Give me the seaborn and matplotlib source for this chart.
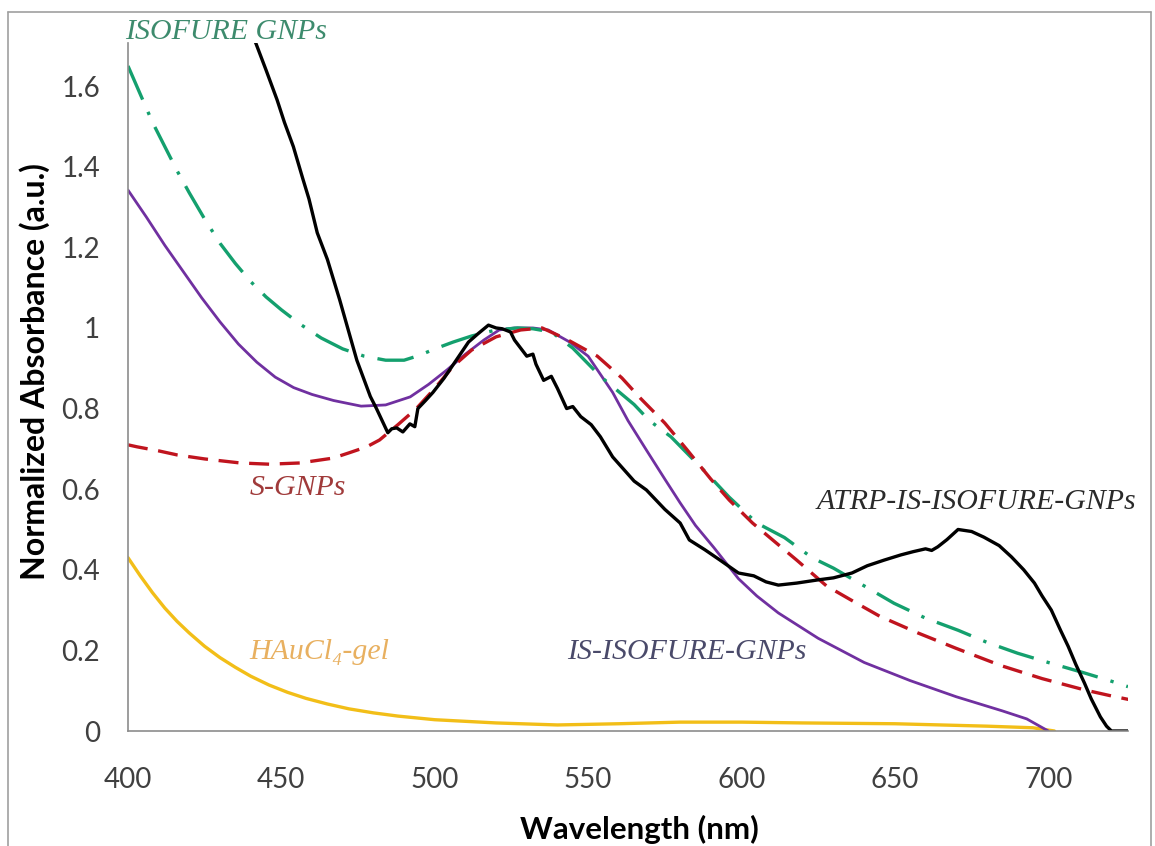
import matplotlib
matplotlib.use("Agg")
import matplotlib.pyplot as plt
from matplotlib.lines import Line2D
import seaborn as sns

# ---------------- data ----------------
atrp_wl = [438, 441.5, 445, 448.6, 451, 453.9, 457, 459, 461.7, 465, 469, 474.6, 479, 481,
           484.7, 486, 487.6, 489.6, 491.9, 493.5, 494.5, 497, 499.4, 503, 507, 511, 514,
           517.5, 520, 522, 524.7, 526, 528, 530, 532, 533, 535.5, 538, 540, 543, 545,
           547.6, 551, 554, 558, 565, 569, 575, 580, 583, 588, 593, 599, 604, 608, 612,
           618, 625, 630, 636, 641, 646.5, 652, 656, 660, 662, 664, 667, 670.6, 675, 679,
           684, 688, 692, 695.5, 698, 701, 704, 706.5, 709, 711.8, 714, 717, 719, 720.6,
           724, 727]
atrp_abs = [1.80, 1.71, 1.64, 1.566, 1.51, 1.45, 1.37, 1.32, 1.236, 1.17, 1.07, 0.92, 0.83,
            0.80, 0.74, 0.75, 0.752, 0.742, 0.762, 0.755, 0.80, 0.82, 0.84, 0.875, 0.92,
            0.965, 0.985, 1.007, 1.0, 0.998, 0.99, 0.97, 0.95, 0.93, 0.935, 0.91, 0.87,
            0.88, 0.85, 0.80, 0.805, 0.78, 0.76, 0.73, 0.68, 0.62, 0.598, 0.55, 0.516,
            0.474, 0.45, 0.424, 0.392, 0.385, 0.37, 0.362, 0.367, 0.375, 0.38, 0.392, 0.41,
            0.424, 0.437, 0.445, 0.452, 0.448, 0.457, 0.475, 0.50, 0.495, 0.481, 0.46,
            0.432, 0.40, 0.367, 0.335, 0.30, 0.25, 0.21, 0.165, 0.119, 0.08, 0.035, 0.012,
            0.0, 0.0, 0.0]

isofure_wl = [400, 404, 408, 412, 416, 420, 425, 430, 435, 440, 445, 450, 456, 463, 470, 477,
              484, 490, 495, 500, 506, 512, 520, 527, 532, 538, 545, 554, 565, 570, 577,
              588.6, 596, 605, 614, 623, 630, 640, 649.7, 660, 670.6, 680, 690, 700, 711.8,
              720, 726]
isofure_abs = [1.65, 1.58, 1.51, 1.45, 1.39, 1.335, 1.27, 1.21, 1.16, 1.115, 1.077, 1.045,
               1.01, 0.975, 0.948, 0.93, 0.92, 0.92, 0.932, 0.948, 0.965, 0.98, 0.995, 1.0,
               0.998, 0.99, 0.95, 0.88, 0.81, 0.77, 0.73, 0.64, 0.58, 0.516, 0.48, 0.43,
               0.404, 0.36, 0.317, 0.28, 0.25, 0.22, 0.193, 0.17, 0.144, 0.125, 0.11]

sgnp_wl = [400, 403, 410, 416, 425, 436.6, 446, 456, 466.8, 472, 477.8, 482, 488, 494, 500,
           506, 512, 520, 528, 535, 543, 553, 561, 567, 575, 582, 590, 596, 603.6, 610, 618,
           627.7, 635.7, 645, 657.6, 670, 684.7, 698, 711.8, 720, 727]
sgnp_abs = [0.71, 0.705, 0.695, 0.685, 0.675, 0.665, 0.662, 0.665, 0.677, 0.69, 0.705, 0.722,
            0.76, 0.80, 0.85, 0.905, 0.945, 0.978, 0.995, 1.0, 0.972, 0.93, 0.876, 0.826,
            0.764, 0.70, 0.625, 0.573, 0.516, 0.475, 0.424, 0.36, 0.325, 0.285, 0.243, 0.205,
            0.162, 0.13, 0.102, 0.088, 0.077]

is_wl = [400, 406, 412, 418, 424, 430, 436, 442, 448, 454, 460, 467, 476, 484, 492, 498,
         504, 510, 516, 521, 526, 532, 537, 544, 550, 558, 563, 569, 575, 580, 585, 591,
         599, 605, 612, 625, 640, 655, 670, 685, 693, 700]
is_abs = [1.342, 1.275, 1.205, 1.14, 1.075, 1.015, 0.96, 0.915, 0.878, 0.852, 0.835, 0.82,
          0.806, 0.809, 0.829, 0.86, 0.896, 0.935, 0.97, 0.995, 1.0, 1.0, 0.995, 0.965, 0.93,
          0.84, 0.77, 0.697, 0.625, 0.566, 0.51, 0.455, 0.378, 0.335, 0.293, 0.23, 0.17,
          0.125, 0.085, 0.05, 0.03, 0.0]

gel_wl = [400, 404, 408, 412, 416, 420, 425, 430, 435, 440, 446, 452, 458, 465, 472, 480,
          488, 500, 520, 540, 560, 580, 600, 620, 650, 680, 695, 702]
gel_abs = [0.43, 0.385, 0.343, 0.305, 0.272, 0.243, 0.21, 0.182, 0.158, 0.136, 0.114, 0.096,
           0.081, 0.067, 0.055, 0.045, 0.037, 0.028, 0.02, 0.015, 0.018, 0.022, 0.022, 0.02,
           0.018, 0.012, 0.008, 0.0]

x_ticks = [400, 450, 500, 550, 600, 650, 700]
y_ticks = [0, 0.2, 0.4, 0.6, 0.8, 1.0, 1.2, 1.4, 1.6]
y_tick_labels = ["0", "0.2", "0.4", "0.6", "0.8", "1", "1.2", "1.4", "1.6"]

# ---------------- figure ----------------
sns.set_theme(style="white")
plt.rcParams["font.family"] = ["Lato", "DejaVu Sans"]

W, H = 1155, 846
fig = plt.figure(figsize=(W / 100, H / 100), dpi=100)
ax = fig.add_axes([128 / W, 1 - 731 / H, 1000 / W, 688 / H])

def draw(wl, ab, color, lw, ls):
    sns.lineplot(x=wl, y=ab, ax=ax, color=color, linewidth=lw, linestyle=ls,
                 sort=False, estimator=None, legend=False,
                 solid_joinstyle="round", dash_joinstyle="round")

draw(gel_wl, gel_abs, "#F2BE18", 2.4, "-")
draw(is_wl, is_abs, "#7030A0", 2.0, "-")
draw(isofure_wl, isofure_abs, "#14A06E", 2.4, (0, (11, 4, 1, 4)))
draw(sgnp_wl, sgnp_abs, "#C0141E", 2.4, (0, (6, 3.2)))
draw(atrp_wl, atrp_abs, "#000000", 2.4, "-")

ax.set_xlim(400, 726)
ax.set_ylim(0, 1.707)
ax.set_xticks(x_ticks)
ax.set_yticks(y_ticks)
ax.set_yticklabels(y_tick_labels)
ax.tick_params(axis="both", length=0, labelsize=20, labelcolor="#404040")
ax.tick_params(axis="x", pad=26)
ax.tick_params(axis="y", pad=20)

for s in ["top", "right"]:
    ax.spines[s].set_visible(False)
for s in ["left", "bottom"]:
    ax.spines[s].set_color("#8c8c8c")
    ax.spines[s].set_linewidth(1.2)

ax.set_xlabel("Wavelength (nm)", fontsize=22.5, fontweight="bold", color="black")
ax.set_ylabel("Normalized Absorbance (a.u.)", fontsize=23, fontweight="bold", color="black")
ax.xaxis.set_label_coords(0.511, -0.122)
ax.yaxis.set_label_coords(-0.078, 0.522)

serif = ["Liberation Serif", "DejaVu Serif"]
ann = dict(fontstyle="italic", family=serif, fontsize=21.5, va="center", ha="left", clip_on=False)
ax.text(399, 1.734, "ISOFURE GNPs", color="#3d8b6d", **ann)
ax.text(439.7, 0.603, "S-GNPs", color="#a03a3a", **ann)
ax.text(624.4, 0.568, "ATRP-IS-ISOFURE-GNPs", color="#2a2a2a", **ann)
ax.text(543, 0.196, "IS-ISOFURE-GNPs", color="#4a4a6a", **ann)
ax.text(439.7, 0.196, "HAuCl\u2084-gel", color="#e8b060", **ann)

# outer chart frame
fc = "#a0a0a0"
fig.add_artist(Line2D([8 / W, 8 / W], [0, 1 - 12 / H], transform=fig.transFigure, color=fc, lw=1.2))
fig.add_artist(Line2D([8 / W, 1151 / W], [1 - 12 / H, 1 - 12 / H], transform=fig.transFigure, color=fc, lw=1.2))
fig.add_artist(Line2D([1151 / W, 1151 / W], [0, 1 - 12 / H], transform=fig.transFigure, color=fc, lw=1.2))

fig.savefig("out.png", dpi=100, facecolor="white")
